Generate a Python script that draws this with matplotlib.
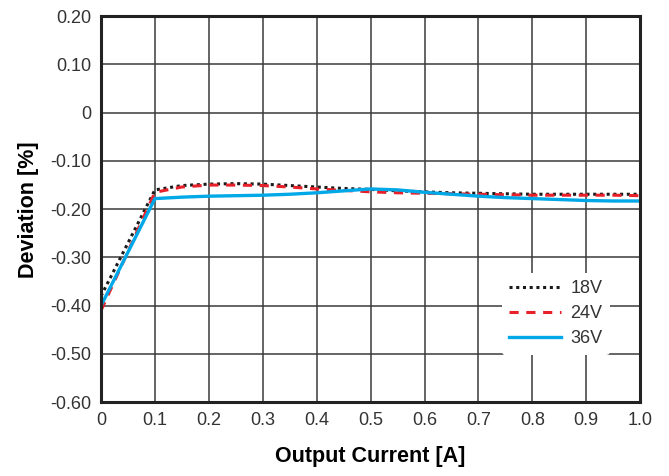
import matplotlib.pyplot as plt

# ------------------------------------------
# Data
# ------------------------------------------

current = [0.0, 0.1, 0.15, 0.2, 0.25, 0.3, 0.35, 0.4, 0.45, 0.5, 0.55, 0.6, 0.65, 0.7, 0.75, 0.8, 0.85, 0.9, 0.95, 1.0]

dev_18v = [-0.380, -0.160, -0.151, -0.148, -0.147, -0.148, -0.151, -0.154, -0.157, -0.159, -0.162, -0.164, -0.166, -0.167, -0.168, -0.169, -0.169, -0.169, -0.169, -0.169]
dev_24v = [-0.410, -0.165, -0.154, -0.150, -0.150, -0.151, -0.154, -0.158, -0.161, -0.164, -0.166, -0.167, -0.168, -0.169, -0.170, -0.171, -0.171, -0.171, -0.171, -0.172]
dev_36v = [-0.400, -0.178, -0.175, -0.173, -0.172, -0.171, -0.169, -0.166, -0.162, -0.158, -0.160, -0.165, -0.169, -0.173, -0.176, -0.178, -0.180, -0.182, -0.183, -0.183]

x_ticks = [0, 0.1, 0.2, 0.3, 0.4, 0.5, 0.6, 0.7, 0.8, 0.9, 1.0]
x_labels = ['0', '0.1', '0.2', '0.3', '0.4', '0.5', '0.6', '0.7', '0.8', '0.9', '1.0']
y_ticks = [0.20, 0.10, 0, -0.10, -0.20, -0.30, -0.40, -0.50, -0.60]
y_labels = ['0.20', '0.10', '0', '-0.10', '-0.20', '-0.30', '-0.40', '-0.50', '-0.60']

# ------------------------------------------
# Plot
# ------------------------------------------

plt.rcParams['font.family'] = ['Liberation Sans', 'DejaVu Sans']

fig = plt.figure(figsize=(6.69, 4.76), dpi=100)
ax = fig.add_axes([0.151, 0.155, 0.806, 0.811])

ax.plot(current, dev_18v, color='#1a1a1a', linestyle=(0, (1, 1.2)), linewidth=2.2, label='18V')
ax.plot(current, dev_24v, color='#e8202a', linestyle=(0, (3, 2.5)), linewidth=2.2, label='24V')
ax.plot(current, dev_36v, color='#00a8e8', linestyle='-', linewidth=2.4, label='36V')

ax.set_xlim(0, 1.0)
ax.set_ylim(-0.60, 0.20)
ax.set_xticks(x_ticks)
ax.set_xticklabels(x_labels)
ax.set_yticks(y_ticks)
ax.set_yticklabels(y_labels)
ax.tick_params(length=0, labelsize=13, colors='#333333', pad=7)

ax.grid(True, color='#3a3a3a', linewidth=1.1)
ax.set_axisbelow(True)
for s in ax.spines.values():
    s.set_linewidth(2.2)
    s.set_color('#222222')

ax.set_xlabel('Output Current [A]', fontsize=15.5, fontweight='bold', labelpad=12)
ax.set_ylabel('Deviation [%]', fontsize=15.5, fontweight='bold', labelpad=8)

leg = ax.legend(loc='lower right', bbox_to_anchor=(0.96, 0.1), frameon=True,
                fontsize=13, handlelength=2.9, handletextpad=0.5,
                labelspacing=0.45, borderpad=0.4)
leg.get_frame().set_edgecolor('none')
leg.get_frame().set_facecolor('white')
leg.get_frame().set_alpha(1)
for t in leg.get_texts():
    t.set_color('#333333')

plt.savefig('out.png', dpi=100)
